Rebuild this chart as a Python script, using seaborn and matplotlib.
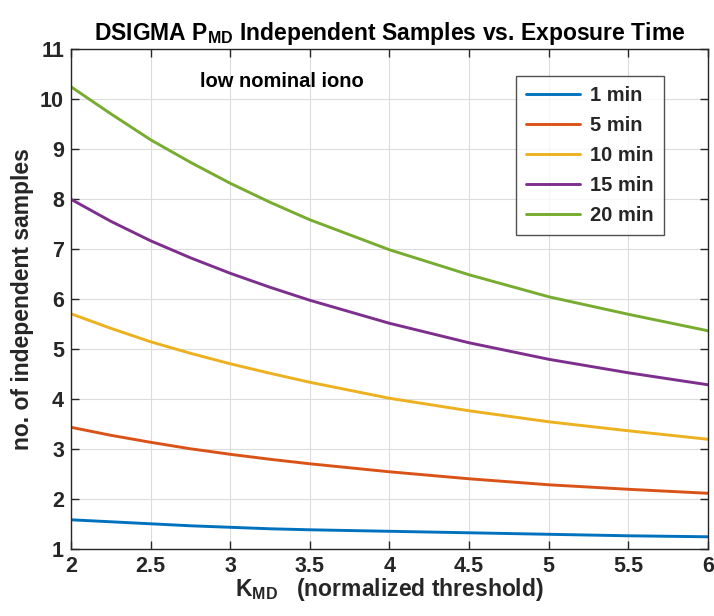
import matplotlib
matplotlib.use("Agg")
import matplotlib.pyplot as plt
import seaborn as sns
import pandas as pd

# Normalized threshold K_MD
k_md = [2.0, 2.25, 2.5, 2.75, 3.0, 3.25, 3.5, 4.0, 4.5, 5.0, 5.5, 6.0]

# Number of independent samples for each exposure time
samples_1min = [1.59, 1.55, 1.51, 1.47, 1.44, 1.41, 1.39, 1.36, 1.33, 1.30, 1.27, 1.25]
samples_5min = [3.44, 3.28, 3.14, 3.01, 2.90, 2.80, 2.71, 2.55, 2.41, 2.29, 2.20, 2.12]
samples_10min = [5.71, 5.42, 5.15, 4.92, 4.71, 4.52, 4.34, 4.02, 3.77, 3.55, 3.37, 3.20]
samples_15min = [8.00, 7.56, 7.17, 6.83, 6.52, 6.24, 5.98, 5.52, 5.13, 4.80, 4.53, 4.29]
samples_20min = [10.25, 9.71, 9.19, 8.74, 8.32, 7.94, 7.59, 6.99, 6.49, 6.05, 5.70, 5.37]

series_labels = ["1 min", "5 min", "10 min", "15 min", "20 min"]
series_values = [samples_1min, samples_5min, samples_10min, samples_15min, samples_20min]
line_colors = ["#0072BD", "#D95319", "#EDB120", "#7E2F8E", "#77AC30"]

x_ticks = [2, 2.5, 3, 3.5, 4, 4.5, 5, 5.5, 6]
x_tick_labels = ["2", "2.5", "3", "3.5", "4", "4.5", "5", "5.5", "6"]
y_ticks = [1, 2, 3, 4, 5, 6, 7, 8, 9, 10, 11]

rows = []
for label, values in zip(series_labels, series_values):
    for k, v in zip(k_md, values):
        rows.append({"K": k, "samples": v, "exposure": label})
df = pd.DataFrame(rows)

sns.set_theme(style="white")
plt.rcParams["font.family"] = ["Liberation Sans", "DejaVu Sans"]
plt.rcParams["font.weight"] = "bold"
plt.rcParams["mathtext.fontset"] = "custom"
plt.rcParams["mathtext.rm"] = "Liberation Sans:bold"
plt.rcParams["mathtext.bf"] = "Liberation Sans:bold"
plt.rcParams["mathtext.it"] = "Liberation Sans:bold"

fig = plt.figure(figsize=(7.14, 6.16), dpi=100)
ax = fig.add_axes([0.0994, 0.1083, 0.8922, 0.8117])

sns.lineplot(data=df, x="K", y="samples", hue="exposure",
             hue_order=series_labels, palette=line_colors,
             linewidth=2.1, ax=ax, legend=False)

ax.set_xlim(2, 6)
ax.set_ylim(1, 11)
ax.set_xticks(x_ticks)
ax.set_xticklabels(x_tick_labels)
ax.set_yticks(y_ticks)

ax.grid(True, color="#dcdcdc", linewidth=0.8)
ax.set_axisbelow(True)
for side in ["left", "right", "top", "bottom"]:
    ax.spines[side].set_visible(True)
    ax.spines[side].set_color("#262626")
    ax.spines[side].set_linewidth(1.0)

ax.tick_params(axis="both", which="major", direction="in", length=6,
               width=1.0, color="#262626", labelcolor="#262626",
               labelsize=15.5, top=True, right=True, bottom=True, left=True,
               pad=5)
for lbl in ax.get_xticklabels() + ax.get_yticklabels():
    lbl.set_fontweight("bold")

ax.set_title(r"DSIGMA P$_{\mathbf{MD}}$ Independent Samples vs. Exposure Time",
             fontsize=16.5, fontweight="bold", color="black", pad=7)
ax.set_xlabel(r"K$_{\mathbf{MD}}$   (normalized threshold)",
              fontsize=16.5, fontweight="bold", color="#262626", labelpad=-1)
ax.set_ylabel("no. of independent samples",
              fontsize=16.5, fontweight="bold", color="#262626", labelpad=4)

ax.text(2.81, 10.35, "low nominal iono", fontsize=14.5, fontweight="bold",
        color="black", ha="left", va="center")

handles = [plt.Line2D([], [], color=c, linewidth=2.1) for c in line_colors]
leg = ax.legend(handles, series_labels, loc="upper right",
                bbox_to_anchor=(0.931, 0.9466), borderaxespad=0,
                prop={"weight": "bold", "size": 14.5},
                frameon=True, fancybox=False, edgecolor="#262626",
                handlelength=2.7, handletextpad=0.5, labelspacing=0.55,
                borderpad=0.5)
leg.get_frame().set_linewidth(1.0)

fig.savefig("out.png", dpi=100)
